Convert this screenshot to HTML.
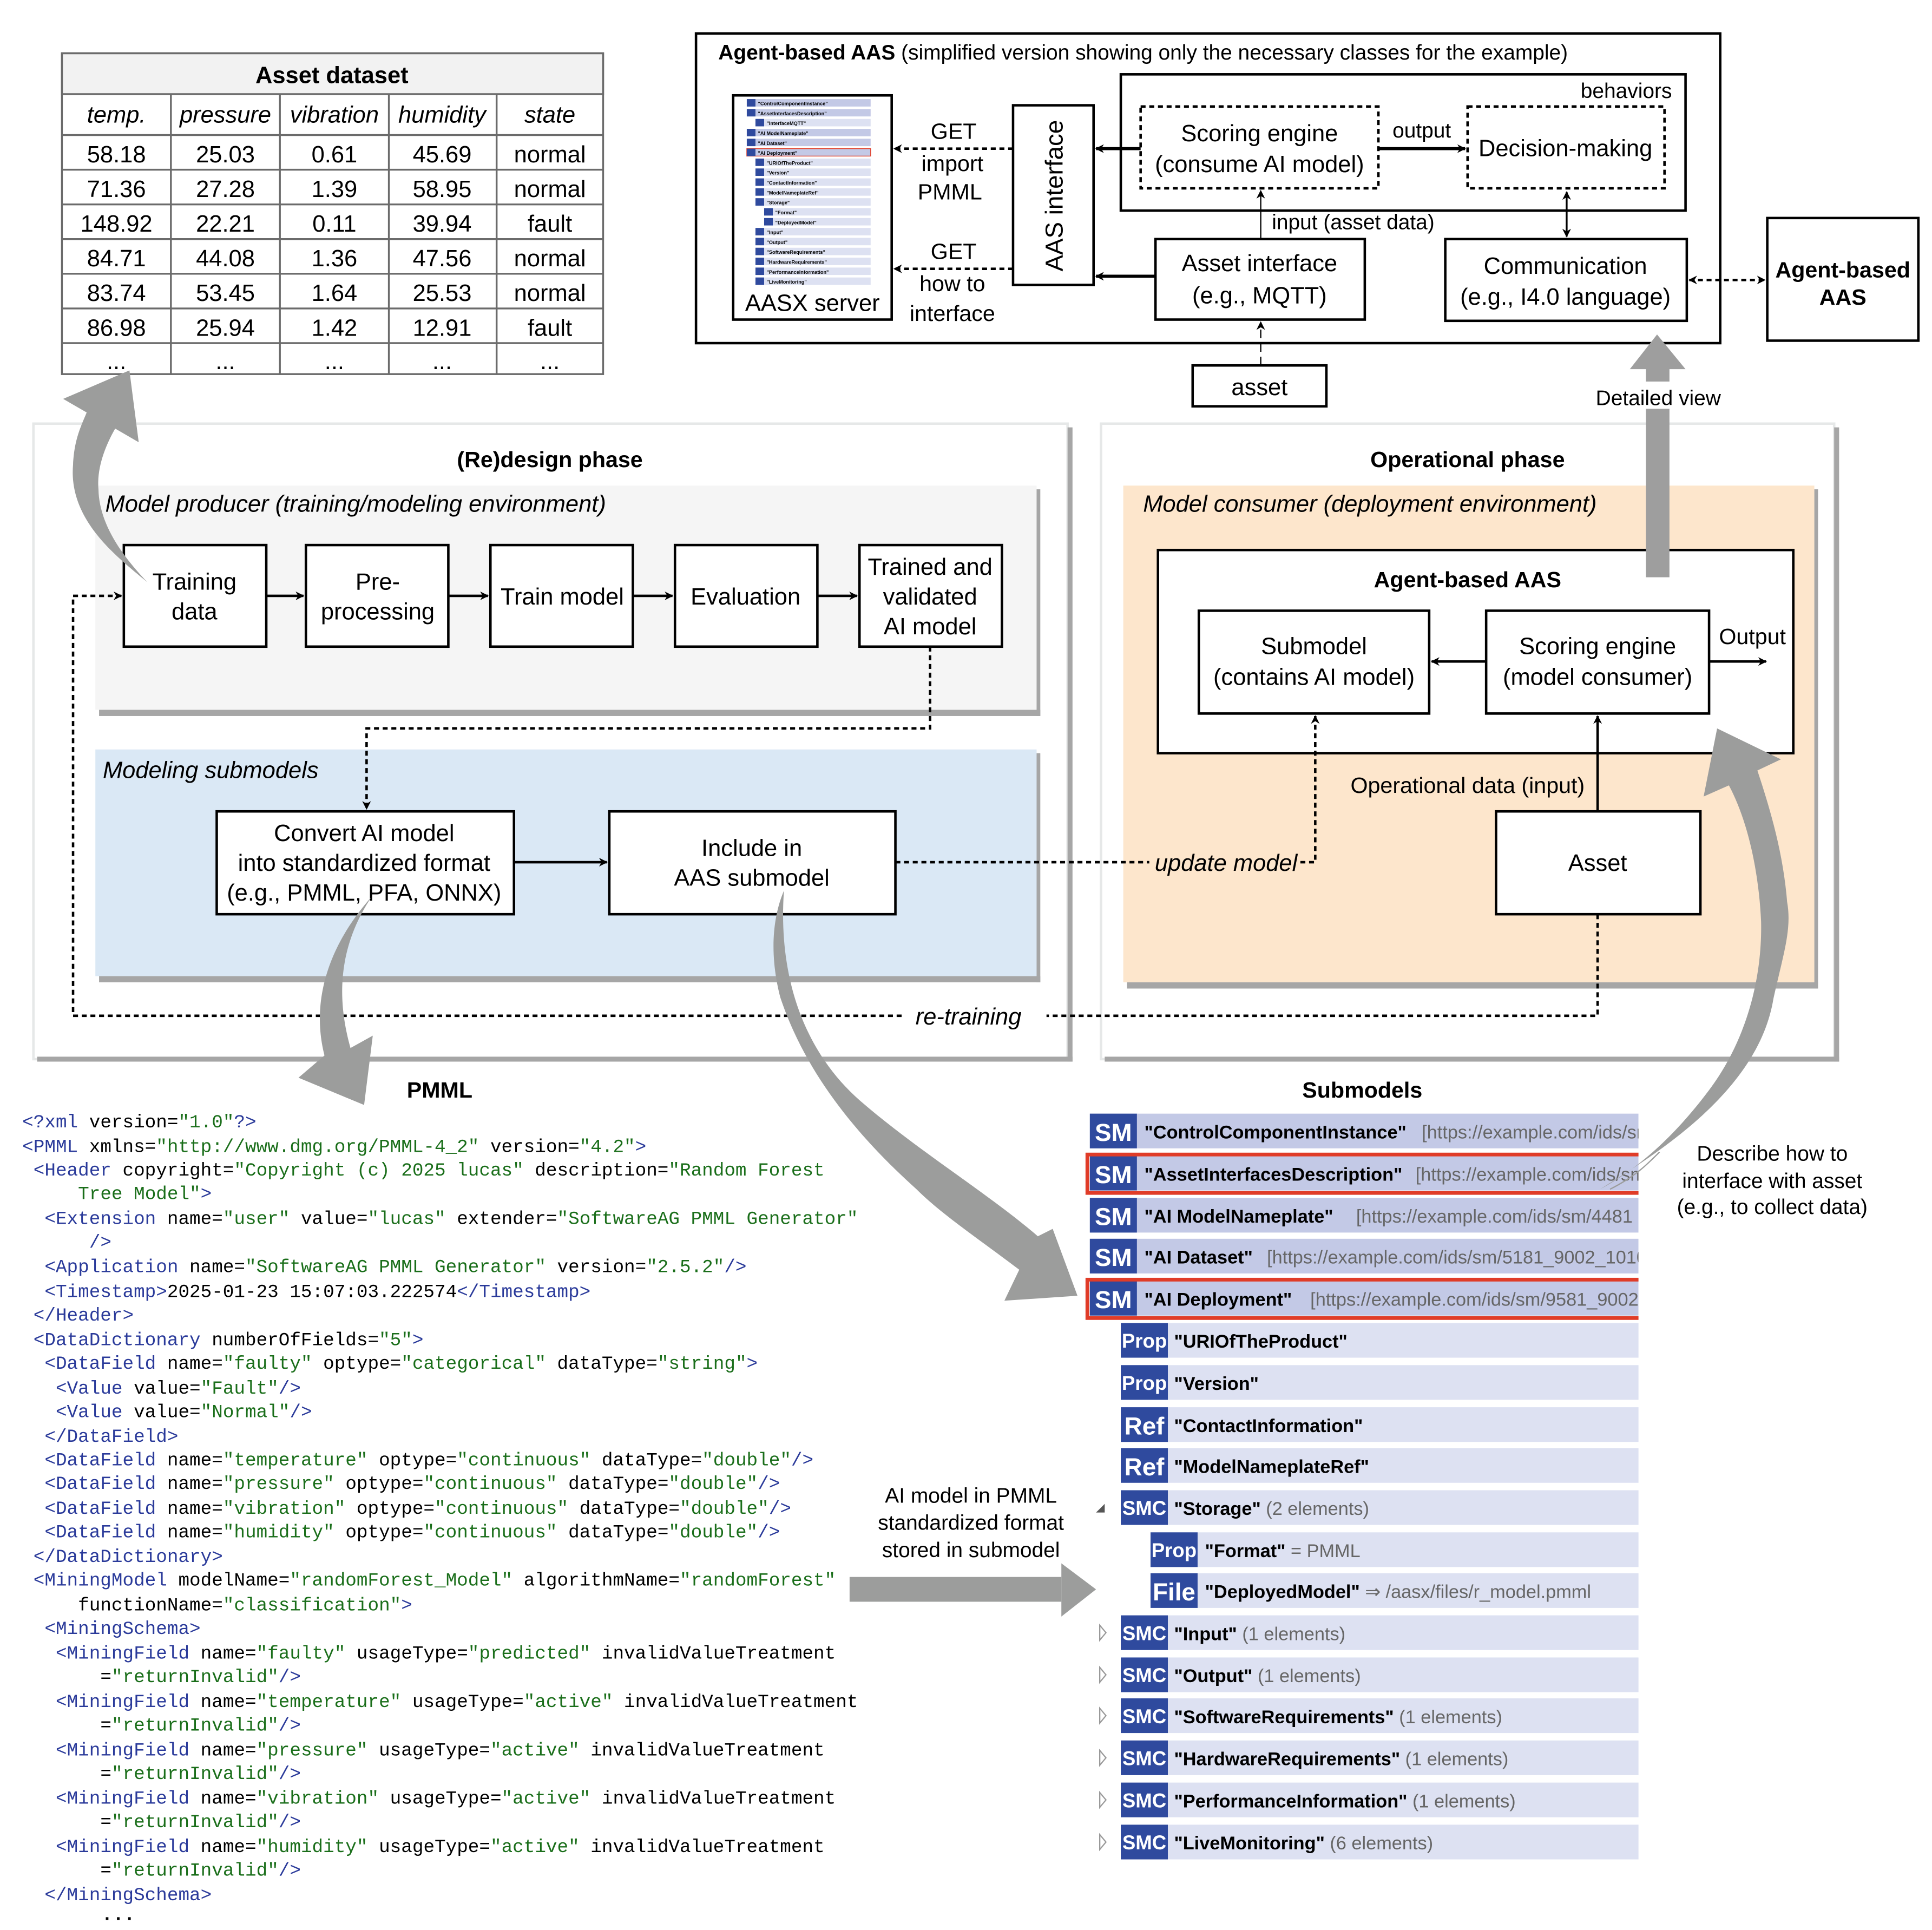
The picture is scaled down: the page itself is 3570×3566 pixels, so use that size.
<!DOCTYPE html>
<html><head><meta charset="utf-8"><style>
html,body{margin:0;padding:0;background:#fff}
svg{display:block}
text{font-family:"Liberation Sans",Arial,sans-serif}
.m text{font-family:"Liberation Mono",monospace;font-size:15px}
.t{fill:#2a3a9a}.v{fill:#1a6e1a}
</style></head><body>
<svg width="3570" height="3566" viewBox="0 0 1560 1558" preserveAspectRatio="none" xmlns="http://www.w3.org/2000/svg">
<defs>
<marker id="a" viewBox="0 0 10 10" refX="9" refY="5" markerWidth="7" markerHeight="7" orient="auto-start-reverse" markerUnits="userSpaceOnUse"><path d="M0,0 L10,5 L0,10 L3,5 z" fill="#000"/></marker>
<clipPath id="cl"><rect x="870" y="890" width="453" height="620"/></clipPath>
</defs>
<rect width="1560" height="1558" fill="#fff"/>

<!-- Asset dataset table -->
<g stroke="#6b6b6b" stroke-width="1.5" fill="none">
<rect x="50" y="43" width="437" height="33" fill="#f2f2f2"/>
<rect x="50" y="43" width="437" height="259"/>
<line x1="50" y1="109" x2="487" y2="109"/>
<line x1="50" y1="137" x2="487" y2="137"/><line x1="50" y1="165" x2="487" y2="165"/>
<line x1="50" y1="193" x2="487" y2="193"/><line x1="50" y1="221" x2="487" y2="221"/>
<line x1="50" y1="249" x2="487" y2="249"/><line x1="50" y1="277" x2="487" y2="277"/>
<line x1="138" y1="76" x2="138" y2="302"/><line x1="226" y1="76" x2="226" y2="302"/>
<line x1="314" y1="76" x2="314" y2="302"/><line x1="401" y1="76" x2="401" y2="302"/>
</g>
<g font-size="19" text-anchor="middle">
<text x="268" y="67" font-weight="bold">Asset dataset</text>
<g font-style="italic"><text x="94" y="99">temp.</text><text x="182" y="99">pressure</text><text x="270" y="99">vibration</text><text x="357" y="99">humidity</text><text x="444" y="99">state</text></g>
<text x="94" y="131">58.18</text><text x="182" y="131">25.03</text><text x="270" y="131">0.61</text><text x="357" y="131">45.69</text><text x="444" y="131">normal</text>
<text x="94" y="159">71.36</text><text x="182" y="159">27.28</text><text x="270" y="159">1.39</text><text x="357" y="159">58.95</text><text x="444" y="159">normal</text>
<text x="94" y="187">148.92</text><text x="182" y="187">22.21</text><text x="270" y="187">0.11</text><text x="357" y="187">39.94</text><text x="444" y="187">fault</text>
<text x="94" y="215">84.71</text><text x="182" y="215">44.08</text><text x="270" y="215">1.36</text><text x="357" y="215">47.56</text><text x="444" y="215">normal</text>
<text x="94" y="243">83.74</text><text x="182" y="243">53.45</text><text x="270" y="243">1.64</text><text x="357" y="243">25.53</text><text x="444" y="243">normal</text>
<text x="94" y="271">86.98</text><text x="182" y="271">25.94</text><text x="270" y="271">1.42</text><text x="357" y="271">12.91</text><text x="444" y="271">fault</text>
<text x="94" y="298">...</text><text x="182" y="298">...</text><text x="270" y="298">...</text><text x="357" y="298">...</text><text x="444" y="298">...</text>
</g>

<!-- Top agent-based AAS -->
<rect x="562" y="27" width="827" height="250" fill="#fff" stroke="#000" stroke-width="2"/>
<text x="580" y="48" font-size="17"><tspan font-weight="bold">Agent-based AAS</tspan> (simplified version showing only the necessary classes for the example)</text>
<rect x="592" y="77" width="128" height="181" fill="#fff" stroke="#000" stroke-width="2"/>
<g font-size="4" font-weight="bold">
<rect x="603" y="80" width="100" height="6" fill="#c3c9e6"/><rect x="603" y="80" width="7" height="6" fill="#2f4a9e"/><text x="612" y="85">"ControlComponentInstance"</text>
<rect x="603" y="88" width="100" height="6" fill="#c3c9e6"/><rect x="603" y="88" width="7" height="6" fill="#2f4a9e"/><text x="612" y="93">"AssetInterfacesDescription"</text>
<rect x="610" y="96" width="93" height="6" fill="#dde1f2"/><rect x="610" y="96" width="7" height="6" fill="#2f4a9e"/><text x="619" y="101">"InterfaceMQTT"</text>
<rect x="603" y="104" width="100" height="6" fill="#c3c9e6"/><rect x="603" y="104" width="7" height="6" fill="#2f4a9e"/><text x="612" y="109">"AI ModelNameplate"</text>
<rect x="603" y="112" width="100" height="6" fill="#c3c9e6"/><rect x="603" y="112" width="7" height="6" fill="#2f4a9e"/><text x="612" y="117">"AI Dataset"</text>
<rect x="603" y="120" width="100" height="6" fill="#c3c9e6" stroke="#e03c28" stroke-width="0.6"/><rect x="603" y="120" width="7" height="6" fill="#2f4a9e"/><text x="612" y="125">"AI Deployment"</text>
<rect x="610" y="128" width="93" height="6" fill="#dde1f2"/><rect x="610" y="128" width="7" height="6" fill="#2f4a9e"/><text x="619" y="133">"URIOfTheProduct"</text>
<rect x="610" y="136" width="93" height="6" fill="#dde1f2"/><rect x="610" y="136" width="7" height="6" fill="#2f4a9e"/><text x="619" y="141">"Version"</text>
<rect x="610" y="144" width="93" height="6" fill="#dde1f2"/><rect x="610" y="144" width="7" height="6" fill="#2f4a9e"/><text x="619" y="149">"ContactInformation"</text>
<rect x="610" y="152" width="93" height="6" fill="#dde1f2"/><rect x="610" y="152" width="7" height="6" fill="#2f4a9e"/><text x="619" y="157">"ModelNameplateRef"</text>
<rect x="610" y="160" width="93" height="6" fill="#dde1f2"/><rect x="610" y="160" width="7" height="6" fill="#2f4a9e"/><text x="619" y="165">"Storage"</text>
<rect x="617" y="168" width="86" height="6" fill="#dde1f2"/><rect x="617" y="168" width="7" height="6" fill="#2f4a9e"/><text x="626" y="173">"Format"</text>
<rect x="617" y="176" width="86" height="6" fill="#dde1f2"/><rect x="617" y="176" width="7" height="6" fill="#2f4a9e"/><text x="626" y="181">"DeployedModel"</text>
<rect x="610" y="184" width="93" height="6" fill="#dde1f2"/><rect x="610" y="184" width="7" height="6" fill="#2f4a9e"/><text x="619" y="189">"Input"</text>
<rect x="610" y="192" width="93" height="6" fill="#dde1f2"/><rect x="610" y="192" width="7" height="6" fill="#2f4a9e"/><text x="619" y="197">"Output"</text>
<rect x="610" y="200" width="93" height="6" fill="#dde1f2"/><rect x="610" y="200" width="7" height="6" fill="#2f4a9e"/><text x="619" y="205">"SoftwareRequirements"</text>
<rect x="610" y="208" width="93" height="6" fill="#dde1f2"/><rect x="610" y="208" width="7" height="6" fill="#2f4a9e"/><text x="619" y="213">"HardwareRequirements"</text>
<rect x="610" y="216" width="93" height="6" fill="#dde1f2"/><rect x="610" y="216" width="7" height="6" fill="#2f4a9e"/><text x="619" y="221">"PerformanceInformation"</text>
<rect x="610" y="224" width="93" height="6" fill="#dde1f2"/><rect x="610" y="224" width="7" height="6" fill="#2f4a9e"/><text x="619" y="229">"LiveMonitoring"</text>
</g>
<text x="656" y="251" font-size="19" text-anchor="middle">AASX server</text>
<rect x="818" y="85" width="65" height="145" fill="#fff" stroke="#000" stroke-width="2"/>
<text transform="translate(858,158) rotate(-90)" font-size="20" text-anchor="middle">AAS interface</text>
<rect x="905" y="60" width="456" height="110" fill="#fff" stroke="#000" stroke-width="2"/>
<text x="1350" y="79" font-size="17" text-anchor="end">behaviors</text>
<rect x="921" y="86" width="192" height="66" fill="#fff" stroke="#000" stroke-width="2" stroke-dasharray="4,3"/>
<rect x="1185" y="86" width="159" height="66" fill="#fff" stroke="#000" stroke-width="2" stroke-dasharray="4,3"/>
<g font-size="19" text-anchor="middle">
<text x="1017" y="114">Scoring engine</text><text x="1017" y="139">(consume AI model)</text>
<text x="1264" y="126">Decision-making</text>
</g>
<rect x="933" y="193" width="169" height="65" fill="#fff" stroke="#000" stroke-width="2"/>
<rect x="1167" y="193" width="195" height="66" fill="#fff" stroke="#000" stroke-width="2"/>
<rect x="963" y="295" width="108" height="33" fill="#fff" stroke="#000" stroke-width="2"/>
<rect x="1427" y="176" width="122" height="99" fill="#fff" stroke="#000" stroke-width="2"/>
<g font-size="19" text-anchor="middle">
<text x="1017" y="219">Asset interface</text><text x="1017" y="245">(e.g., MQTT)</text>
<text x="1264" y="221">Communication</text><text x="1264" y="246">(e.g., I4.0 language)</text>
<text x="1017" y="319">asset</text>
<text x="1488" y="224" font-weight="bold" font-size="18">Agent-based</text><text x="1488" y="246" font-weight="bold" font-size="18">AAS</text>
<text x="770" y="112" font-size="18">GET</text><text x="769" y="138" font-size="18">import</text><text x="767" y="161" font-size="18">PMML</text>
<text x="770" y="209" font-size="18">GET</text><text x="769" y="235" font-size="18">how to</text><text x="769" y="259" font-size="18">interface</text>
<text x="1148" y="111" font-size="17">output</text>
</g>
<text x="1027" y="185" font-size="17">input (asset data)</text>
<g stroke="#000" fill="none">
<line x1="818" y1="120" x2="722" y2="120" stroke-width="2" stroke-dasharray="4,3" marker-end="url(#a)"/>
<line x1="818" y1="217" x2="722" y2="217" stroke-width="2" stroke-dasharray="4,3" marker-end="url(#a)"/>
<line x1="921" y1="120" x2="885" y2="120" stroke-width="2.5" marker-end="url(#a)"/>
<line x1="933" y1="223" x2="885" y2="223" stroke-width="2.5" marker-end="url(#a)"/>
<line x1="1113" y1="120" x2="1183" y2="120" stroke-width="2.5" marker-end="url(#a)"/>
<line x1="1018" y1="193" x2="1018" y2="154" stroke-width="1" marker-end="url(#a)"/>
<line x1="1265" y1="155" x2="1265" y2="191" stroke-width="1.5" marker-start="url(#a)" marker-end="url(#a)"/>
<line x1="1018" y1="295" x2="1018" y2="260" stroke-width="1" stroke-dasharray="7,4" marker-end="url(#a)"/>
<line x1="1364" y1="226" x2="1425" y2="226" stroke-width="2" stroke-dasharray="4,3" marker-start="url(#a)" marker-end="url(#a)"/>
</g>

<!-- Redesign phase panel -->
<rect x="27" y="342" width="835" height="513" fill="#fff" stroke="#e6e8e8" stroke-width="2"/>
<rect x="30" y="853" width="836" height="4" fill="#a6a6a6"/><rect x="862" y="345" width="4" height="512" fill="#a6a6a6"/>
<text x="444" y="377" font-size="18" font-weight="bold" text-anchor="middle">(Re)design phase</text>
<rect x="77" y="392" width="760" height="181" fill="#f5f5f5"/>
<rect x="80" y="573" width="760" height="5" fill="#a6a6a6"/><rect x="837" y="395" width="3" height="183" fill="#a6a6a6"/>
<text x="85" y="413" font-size="19" font-style="italic">Model producer (training/modeling environment)</text>
<rect x="77" y="605" width="760" height="183" fill="#dae8f5"/>
<rect x="80" y="788" width="760" height="5" fill="#a6a6a6"/><rect x="837" y="608" width="3" height="185" fill="#a6a6a6"/>
<text x="83" y="628" font-size="19" font-style="italic">Modeling submodels</text>

<g fill="#fff" stroke="#000" stroke-width="2">
<rect x="100" y="440" width="115" height="82"/><rect x="247" y="440" width="115" height="82"/>
<rect x="396" y="440" width="115" height="82"/><rect x="545" y="440" width="115" height="82"/>
<rect x="694" y="440" width="115" height="82"/>
<rect x="175" y="655" width="240" height="83"/><rect x="492" y="655" width="231" height="83"/>
</g>
<g font-size="19" text-anchor="middle">
<text x="157" y="476">Training</text><text x="157" y="500">data</text>
<text x="305" y="476">Pre-</text><text x="305" y="500">processing</text>
<text x="454" y="488">Train model</text>
<text x="602" y="488">Evaluation</text>
<text x="751" y="464">Trained and</text><text x="751" y="488">validated</text><text x="751" y="512">AI model</text>
<text x="294" y="679">Convert AI model</text><text x="294" y="703">into standardized format</text><text x="294" y="727">(e.g., PMML, PFA, ONNX)</text>
<text x="607" y="691">Include in</text><text x="607" y="715">AAS submodel</text>
</g>

<!-- Operational phase panel -->
<rect x="889" y="342" width="592" height="513" fill="#fff" stroke="#e6e8e8" stroke-width="2"/>
<rect x="892" y="853" width="593" height="4" fill="#a6a6a6"/><rect x="1481" y="345" width="4" height="512" fill="#a6a6a6"/>
<text x="1185" y="377" font-size="18" font-weight="bold" text-anchor="middle">Operational phase</text>
<rect x="907" y="392" width="558" height="401" fill="#fde6cc"/>
<rect x="910" y="793" width="558" height="5" fill="#a6a6a6"/><rect x="1465" y="395" width="3" height="403" fill="#a6a6a6"/>
<text x="923" y="413" font-size="19" font-style="italic">Model consumer (deployment environment)</text>
<rect x="935" y="444" width="513" height="164" fill="#fff" stroke="#000" stroke-width="2"/>
<text x="1185" y="474" font-size="18" font-weight="bold" text-anchor="middle">Agent-based AAS</text>
<g fill="#fff" stroke="#000" stroke-width="2">
<rect x="968" y="493" width="186" height="83"/><rect x="1200" y="493" width="180" height="83"/>
<rect x="1208" y="655" width="165" height="83"/>
</g>
<g font-size="19" text-anchor="middle">
<text x="1061" y="528">Submodel</text><text x="1061" y="553">(contains AI model)</text>
<text x="1290" y="528">Scoring engine</text><text x="1290" y="553">(model consumer)</text>
<text x="1290" y="703">Asset</text>
<text x="1415" y="520" font-size="18">Output</text>
<text x="1185" y="640" font-size="18">Operational data (input)</text>
<text x="990" y="703" font-style="italic">update model</text>
<text x="782" y="827" font-style="italic">re-training</text>
</g>

<g stroke="#000" fill="none">
<line x1="215" y1="481" x2="245" y2="481" stroke-width="2" marker-end="url(#a)"/>
<line x1="362" y1="481" x2="394" y2="481" stroke-width="2" marker-end="url(#a)"/>
<line x1="511" y1="481" x2="543" y2="481" stroke-width="2" marker-end="url(#a)"/>
<line x1="660" y1="481" x2="692" y2="481" stroke-width="2" marker-end="url(#a)"/>
<polyline points="751,522 751,588 296,588 296,653" stroke-width="2" stroke-dasharray="4,3" marker-end="url(#a)"/>
<line x1="415" y1="696" x2="490" y2="696" stroke-width="2" marker-end="url(#a)"/>
<line x1="723" y1="696" x2="928" y2="696" stroke-width="2" stroke-dasharray="4,3"/>
<polyline points="1050,696 1062,696 1062,578" stroke-width="2" stroke-dasharray="4,3" marker-end="url(#a)"/>
<polyline points="1290,738 1290,820 845,820" stroke-width="2" stroke-dasharray="4,3"/>
<polyline points="728,820 59,820 59,481 98,481" stroke-width="2" stroke-dasharray="4,3" marker-end="url(#a)"/>
<line x1="1200" y1="534" x2="1156" y2="534" stroke-width="2" marker-end="url(#a)"/>
<line x1="1380" y1="534" x2="1426" y2="534" stroke-width="2" marker-end="url(#a)"/>
<line x1="1290" y1="655" x2="1290" y2="578" stroke-width="2" marker-end="url(#a)"/>
</g>

<!-- Detailed view arrow -->
<rect x="1329" y="330" width="19" height="136" fill="#9e9e9e"/>
<rect x="1329" y="296" width="19" height="12" fill="#9e9e9e"/>
<polygon points="1338,270 1361,298 1316,298" fill="#9e9e9e"/>
<text x="1339" y="327" font-size="17" text-anchor="middle">Detailed view</text>

<!-- PMML code -->
<text x="355" y="886" font-size="18" font-weight="bold" text-anchor="middle">PMML</text>
<g class="m">
<text x="18" y="910"><tspan class="t">&lt;?xml</tspan> version=<tspan class="v">"1.0"</tspan><tspan class="t">?&gt;</tspan></text>
<text x="18" y="930"><tspan class="t">&lt;PMML</tspan> xmlns=<tspan class="v">"http://www.dmg.org/PMML-4_2"</tspan> version=<tspan class="v">"4.2"</tspan><tspan class="t">&gt;</tspan></text>
<text x="27" y="949"><tspan class="t">&lt;Header</tspan> copyright=<tspan class="v">"Copyright (c) 2025 lucas"</tspan> description=<tspan class="v">"Random Forest</tspan></text>
<text x="63" y="968"><tspan class="v">Tree Model"</tspan><tspan class="t">&gt;</tspan></text>
<text x="36" y="988"><tspan class="t">&lt;Extension</tspan> name=<tspan class="v">"user"</tspan> value=<tspan class="v">"lucas"</tspan> extender=<tspan class="v">"SoftwareAG PMML Generator"</tspan></text>
<text x="72" y="1007"><tspan class="t">/&gt;</tspan></text>
<text x="36" y="1027"><tspan class="t">&lt;Application</tspan> name=<tspan class="v">"SoftwareAG PMML Generator"</tspan> version=<tspan class="v">"2.5.2"</tspan><tspan class="t">/&gt;</tspan></text>
<text x="36" y="1047"><tspan class="t">&lt;Timestamp&gt;</tspan>2025-01-23 15:07:03.222574<tspan class="t">&lt;/Timestamp&gt;</tspan></text>
<text x="27" y="1066"><tspan class="t">&lt;/Header&gt;</tspan></text>
<text x="27" y="1086"><tspan class="t">&lt;DataDictionary</tspan> numberOfFields=<tspan class="v">"5"</tspan><tspan class="t">&gt;</tspan></text>
<text x="36" y="1105"><tspan class="t">&lt;DataField</tspan> name=<tspan class="v">"faulty"</tspan> optype=<tspan class="v">"categorical"</tspan> dataType=<tspan class="v">"string"</tspan><tspan class="t">&gt;</tspan></text>
<text x="45" y="1125"><tspan class="t">&lt;Value</tspan> value=<tspan class="v">"Fault"</tspan><tspan class="t">/&gt;</tspan></text>
<text x="45" y="1144"><tspan class="t">&lt;Value</tspan> value=<tspan class="v">"Normal"</tspan><tspan class="t">/&gt;</tspan></text>
<text x="36" y="1164"><tspan class="t">&lt;/DataField&gt;</tspan></text>
<text x="36" y="1183"><tspan class="t">&lt;DataField</tspan> name=<tspan class="v">"temperature"</tspan> optype=<tspan class="v">"continuous"</tspan> dataType=<tspan class="v">"double"</tspan><tspan class="t">/&gt;</tspan></text>
<text x="36" y="1202"><tspan class="t">&lt;DataField</tspan> name=<tspan class="v">"pressure"</tspan> optype=<tspan class="v">"continuous"</tspan> dataType=<tspan class="v">"double"</tspan><tspan class="t">/&gt;</tspan></text>
<text x="36" y="1222"><tspan class="t">&lt;DataField</tspan> name=<tspan class="v">"vibration"</tspan> optype=<tspan class="v">"continuous"</tspan> dataType=<tspan class="v">"double"</tspan><tspan class="t">/&gt;</tspan></text>
<text x="36" y="1241"><tspan class="t">&lt;DataField</tspan> name=<tspan class="v">"humidity"</tspan> optype=<tspan class="v">"continuous"</tspan> dataType=<tspan class="v">"double"</tspan><tspan class="t">/&gt;</tspan></text>
<text x="27" y="1261"><tspan class="t">&lt;/DataDictionary&gt;</tspan></text>
<text x="27" y="1280"><tspan class="t">&lt;MiningModel</tspan> modelName=<tspan class="v">"randomForest_Model"</tspan> algorithmName=<tspan class="v">"randomForest"</tspan></text>
<text x="63" y="1300">functionName=<tspan class="v">"classification"</tspan><tspan class="t">&gt;</tspan></text>
<text x="36" y="1319"><tspan class="t">&lt;MiningSchema&gt;</tspan></text>
<text x="45" y="1339"><tspan class="t">&lt;MiningField</tspan> name=<tspan class="v">"faulty"</tspan> usageType=<tspan class="v">"predicted"</tspan> invalidValueTreatment</text>
<text x="81" y="1358">=<tspan class="v">"returnInvalid"</tspan><tspan class="t">/&gt;</tspan></text>
<text x="45" y="1378"><tspan class="t">&lt;MiningField</tspan> name=<tspan class="v">"temperature"</tspan> usageType=<tspan class="v">"active"</tspan> invalidValueTreatment</text>
<text x="81" y="1397">=<tspan class="v">"returnInvalid"</tspan><tspan class="t">/&gt;</tspan></text>
<text x="45" y="1417"><tspan class="t">&lt;MiningField</tspan> name=<tspan class="v">"pressure"</tspan> usageType=<tspan class="v">"active"</tspan> invalidValueTreatment</text>
<text x="81" y="1436">=<tspan class="v">"returnInvalid"</tspan><tspan class="t">/&gt;</tspan></text>
<text x="45" y="1456"><tspan class="t">&lt;MiningField</tspan> name=<tspan class="v">"vibration"</tspan> usageType=<tspan class="v">"active"</tspan> invalidValueTreatment</text>
<text x="81" y="1475">=<tspan class="v">"returnInvalid"</tspan><tspan class="t">/&gt;</tspan></text>
<text x="45" y="1495"><tspan class="t">&lt;MiningField</tspan> name=<tspan class="v">"humidity"</tspan> usageType=<tspan class="v">"active"</tspan> invalidValueTreatment</text>
<text x="81" y="1514">=<tspan class="v">"returnInvalid"</tspan><tspan class="t">/&gt;</tspan></text>
<text x="36" y="1534"><tspan class="t">&lt;/MiningSchema&gt;</tspan></text>
<text x="82" y="1550" font-weight="bold">...</text>
</g>

<!-- Submodels -->
<text x="1100" y="886" font-size="18" font-weight="bold" text-anchor="middle">Submodels</text>
<g clip-path="url(#cl)" font-size="15">
<g>
<rect x="880" y="899" width="443" height="28" fill="#c3c9e6"/><rect x="880" y="899" width="38" height="28" fill="#2f4a9e"/>
<text x="899" y="921" fill="#fff" font-weight="bold" font-size="20" text-anchor="middle">SM</text>
<text x="924" y="919" font-weight="bold">"ControlComponentInstance"</text><text x="1148" y="919" fill="#666">[https://example.com/ids/sm/</text>
</g>
<g>
<rect x="880" y="933" width="443" height="28" fill="#c3c9e6"/><rect x="880" y="933" width="38" height="28" fill="#2f4a9e"/>
<rect x="878" y="932" width="450" height="31" fill="none" stroke="#e03c28" stroke-width="3"/>
<text x="899" y="955" fill="#fff" font-weight="bold" font-size="20" text-anchor="middle">SM</text>
<text x="924" y="953" font-weight="bold">"AssetInterfacesDescription"</text><text x="1143" y="953" fill="#666">[https://example.com/ids/sm/</text>
</g>
<g>
<rect x="880" y="967" width="443" height="28" fill="#c3c9e6"/><rect x="880" y="967" width="38" height="28" fill="#2f4a9e"/>
<text x="899" y="989" fill="#fff" font-weight="bold" font-size="20" text-anchor="middle">SM</text>
<text x="924" y="987" font-weight="bold">"AI ModelNameplate"</text><text x="1095" y="987" fill="#666">[https://example.com/ids/sm/4481</text>
</g>
<g>
<rect x="880" y="1000" width="443" height="28" fill="#c3c9e6"/><rect x="880" y="1000" width="38" height="28" fill="#2f4a9e"/>
<text x="899" y="1022" fill="#fff" font-weight="bold" font-size="20" text-anchor="middle">SM</text>
<text x="924" y="1020" font-weight="bold">"AI Dataset"</text><text x="1023" y="1020" fill="#666">[https://example.com/ids/sm/5181_9002_1010</text>
</g>
<g>
<rect x="880" y="1034" width="443" height="28" fill="#c3c9e6"/><rect x="880" y="1034" width="38" height="28" fill="#2f4a9e"/>
<rect x="878" y="1033" width="450" height="31" fill="none" stroke="#e03c28" stroke-width="3"/>
<text x="899" y="1056" fill="#fff" font-weight="bold" font-size="20" text-anchor="middle">SM</text>
<text x="924" y="1054" font-weight="bold">"AI Deployment"</text><text x="1058" y="1054" fill="#666">[https://example.com/ids/sm/9581_9002</text>
</g>
</g>
<g font-size="15">
<rect x="905" y="1068" width="418" height="28" fill="#dde1f2"/><rect x="905" y="1068" width="38" height="28" fill="#2f4a9e"/>
<text x="924" y="1088" fill="#fff" font-weight="bold" font-size="16" text-anchor="middle">Prop</text><text x="948" y="1088" font-weight="bold">"URIOfTheProduct"</text>
<rect x="905" y="1102" width="418" height="28" fill="#dde1f2"/><rect x="905" y="1102" width="38" height="28" fill="#2f4a9e"/>
<text x="924" y="1122" fill="#fff" font-weight="bold" font-size="16" text-anchor="middle">Prop</text><text x="948" y="1122" font-weight="bold">"Version"</text>
<rect x="905" y="1136" width="418" height="28" fill="#dde1f2"/><rect x="905" y="1136" width="38" height="28" fill="#2f4a9e"/>
<text x="924" y="1158" fill="#fff" font-weight="bold" font-size="20" text-anchor="middle">Ref</text><text x="948" y="1156" font-weight="bold">"ContactInformation"</text>
<rect x="905" y="1169" width="418" height="28" fill="#dde1f2"/><rect x="905" y="1169" width="38" height="28" fill="#2f4a9e"/>
<text x="924" y="1191" fill="#fff" font-weight="bold" font-size="20" text-anchor="middle">Ref</text><text x="948" y="1189" font-weight="bold">"ModelNameplateRef"</text>
<rect x="905" y="1203" width="418" height="28" fill="#dde1f2"/><rect x="905" y="1203" width="38" height="28" fill="#2f4a9e"/>
<text x="924" y="1223" fill="#fff" font-weight="bold" font-size="16" text-anchor="middle">SMC</text><text x="948" y="1223"><tspan font-weight="bold">"Storage"</tspan><tspan fill="#666">  (2 elements)</tspan></text>
<polygon points="885,1221 892,1214 892,1221" fill="#555"/>
<rect x="929" y="1237" width="394" height="28" fill="#dde1f2"/><rect x="929" y="1237" width="38" height="28" fill="#2f4a9e"/>
<text x="948" y="1257" fill="#fff" font-weight="bold" font-size="16" text-anchor="middle">Prop</text><text x="973" y="1257"><tspan font-weight="bold">"Format"</tspan><tspan fill="#666">  = PMML</tspan></text>
<rect x="929" y="1270" width="394" height="28" fill="#dde1f2"/><rect x="929" y="1270" width="38" height="28" fill="#2f4a9e"/>
<text x="948" y="1292" fill="#fff" font-weight="bold" font-size="20" text-anchor="middle">File</text><text x="973" y="1290"><tspan font-weight="bold">"DeployedModel"</tspan><tspan fill="#666">  ⇒ /aasx/files/r_model.pmml</tspan></text>
<rect x="905" y="1304" width="418" height="28" fill="#dde1f2"/><rect x="905" y="1304" width="38" height="28" fill="#2f4a9e"/>
<text x="924" y="1324" fill="#fff" font-weight="bold" font-size="16" text-anchor="middle">SMC</text><text x="948" y="1324"><tspan font-weight="bold">"Input"</tspan><tspan fill="#666">  (1 elements)</tspan></text>
<rect x="905" y="1338" width="418" height="28" fill="#dde1f2"/><rect x="905" y="1338" width="38" height="28" fill="#2f4a9e"/>
<text x="924" y="1358" fill="#fff" font-weight="bold" font-size="16" text-anchor="middle">SMC</text><text x="948" y="1358"><tspan font-weight="bold">"Output"</tspan><tspan fill="#666">  (1 elements)</tspan></text>
<rect x="905" y="1371" width="418" height="28" fill="#dde1f2"/><rect x="905" y="1371" width="38" height="28" fill="#2f4a9e"/>
<text x="924" y="1391" fill="#fff" font-weight="bold" font-size="16" text-anchor="middle">SMC</text><text x="948" y="1391"><tspan font-weight="bold">"SoftwareRequirements"</tspan><tspan fill="#666">  (1 elements)</tspan></text>
<rect x="905" y="1405" width="418" height="28" fill="#dde1f2"/><rect x="905" y="1405" width="38" height="28" fill="#2f4a9e"/>
<text x="924" y="1425" fill="#fff" font-weight="bold" font-size="16" text-anchor="middle">SMC</text><text x="948" y="1425"><tspan font-weight="bold">"HardwareRequirements"</tspan><tspan fill="#666">  (1 elements)</tspan></text>
<rect x="905" y="1439" width="418" height="28" fill="#dde1f2"/><rect x="905" y="1439" width="38" height="28" fill="#2f4a9e"/>
<text x="924" y="1459" fill="#fff" font-weight="bold" font-size="16" text-anchor="middle">SMC</text><text x="948" y="1459"><tspan font-weight="bold">"PerformanceInformation"</tspan><tspan fill="#666">  (1 elements)</tspan></text>
<rect x="905" y="1473" width="418" height="28" fill="#dde1f2"/><rect x="905" y="1473" width="38" height="28" fill="#2f4a9e"/>
<text x="924" y="1493" fill="#fff" font-weight="bold" font-size="16" text-anchor="middle">SMC</text><text x="948" y="1493"><tspan font-weight="bold">"LiveMonitoring"</tspan><tspan fill="#666">  (6 elements)</tspan></text>
<g fill="none" stroke="#999" stroke-width="1">
<polygon points="888,1312 893,1318 888,1324"/><polygon points="888,1346 893,1352 888,1358"/>
<polygon points="888,1379 893,1385 888,1391"/><polygon points="888,1413 893,1419 888,1425"/>
<polygon points="888,1447 893,1453 888,1459"/><polygon points="888,1481 893,1487 888,1493"/>
</g>
</g>

<g font-size="17" text-anchor="middle">
<text x="1431" y="937">Describe how to</text><text x="1431" y="959">interface with asset</text><text x="1431" y="980">(e.g., to collect data)</text>
<text x="784" y="1213">AI model in PMML</text><text x="784" y="1235">standardized format</text><text x="784" y="1257">stored in submodel</text>
</g>

<!-- Big gray arrows -->
<g fill="#9c9d9c">
<path d="M119,470 C95,450 55,420 59,375 C60,355 65,345 70,333 L51,322 L104.5,299 L112,357 L93,346 C85,360 78,378 79.5,395 C80,420 95,445 119,470 Z"/>
<path d="M300,724 C268,760 250,805 262,852 L241,870 L294,892 L301,836 L283,846 C270,800 276,760 300,724 Z"/>
<path d="M633,719 C628,790 650,850 695,889 C740,928 800,965 838,998 L850,992 L870,1046 L811,1050 L823,1025 C790,1000 760,980 740,960 C690,915 650,865 630,805 C621,770 624,740 633,719 Z"/>
<path d="M1292,960 C1340,930 1420,880 1432,806 C1440,770 1447,750 1443,728 C1440,690 1430,655 1419,622 L1438,613 L1386.5,588 L1375.6,643 L1396,634 C1410,660 1420,700 1422,744 C1423,790 1410,840 1380,880 C1350,920 1320,945 1292,960 Z"/>
<rect x="686" y="1273" width="171" height="20"/>
<polygon points="857,1262 885,1283 857,1305"/>
</g>
<path d="M1300,960 C1320,950 1330,940 1340,930" stroke="#9c9d9c" stroke-width="1" fill="none"/>
</svg>
</body></html>
